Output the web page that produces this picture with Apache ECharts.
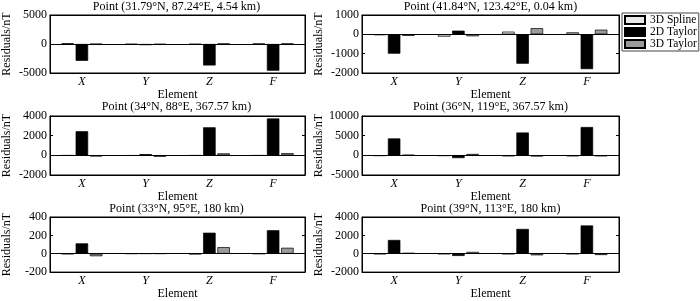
<!DOCTYPE html>
<html>
<head>
<meta charset="utf-8">
<title>Residuals</title>
<script src="https://cdn.jsdelivr.net/npm/echarts@6.0.0/dist/echarts.min.js"></script>
<style>
  html, body { margin: 0; padding: 0; background: #fff; }
  #main { width: 700px; height: 301px; }
</style>
</head>
<body>
<div id="main"></div>
<script>
// element categories and series names
const elements = ['X', 'Y', 'Z', 'F']
const seriesNames = ['3D Spline', '2D Taylor', '3D Taylor']

const titles = [
  'Point (31.79°N, 87.24°E, 4.54 km)',
  'Point (41.84°N, 123.42°E, 0.04 km)',
  'Point (34°N, 88°E, 367.57 km)',
  'Point (36°N, 119°E, 367.57 km)',
  'Point (33°N, 95°E, 180 km)',
  'Point (39°N, 113°E, 180 km)'
]

// residuals (nT) per panel, in order X, Y, Z, F
const spline3D = [
  [120, -60, -60, 40],
  [-40, -120, 140, 105],
  [-20, -30, -20, -20],
  [-150, -150, -250, -250],
  [-3, 2, -5, 0],
  [-30, -20, -30, -30]
]
const taylor2D = [
  [-2900, -200, -3700, -4600],
  [-1000, 190, -1520, -1800],
  [2450, 120, 2850, 3750],
  [4300, -700, 5800, 7200],
  [113, 3, 229, 256],
  [1500, -240, 2700, 3080]
]
const taylor3D = [
  [-30, -80, 50, 60],
  [-80, -100, 320, 240],
  [-120, -150, 200, 220],
  [100, 350, -300, -250],
  [-27, 3, 72, 65],
  [100, 200, -170, -140]
]

// y axis ranges per panel
const yMin = [-5000, -2000, -2000, -5000, -200, -2000]
const yMax = [5000, 1000, 4000, 10000, 400, 4000]
const yStep = [5000, 1000, 2000, 5000, 200, 2000]

const font = 'Liberation Serif'
const colors = ['#e8e8e8', '#000000', '#9a9a9a']
const colLeft = [48, 362]
const rowTop = [15, 116, 217]
const rowHeight = [58, 59, 59]
const titleTop = [1, 101, 203]
const panelWidth = 257

let chart = echarts.init(document.getElementById('main'))

let grids = []
let xAxes = []
let yAxes = []
let series = []
let titleList = []
const values = [spline3D, taylor2D, taylor3D]
const textStyle = { fontFamily: font, fontSize: 12, color: '#000' }
const black = { color: '#000', width: 1 }

for (let i = 0; i < titles.length; i++) {
  let row = Math.floor(i / 2)
  let col = i % 2
  grids.push({
    left: colLeft[col],
    top: rowTop[row],
    width: panelWidth,
    height: rowHeight[row],
    show: true,
    borderColor: '#000',
    borderWidth: 1
  })
  titleList.push({
    text: titles[i],
    left: colLeft[col] + panelWidth / 2,
    top: titleTop[row],
    textAlign: 'center',
    padding: 0,
    textStyle: { fontFamily: font, fontSize: 12, fontWeight: 'normal', color: '#000' }
  })
  for (let pos of ['bottom', 'top']) {
    xAxes.push({
      gridIndex: i,
      type: 'category',
      data: elements,
      position: pos,
      axisLine: { show: true, onZero: false, lineStyle: black },
      axisTick: { inside: true, alignWithLabel: true, length: 3, lineStyle: black },
      axisLabel: Object.assign({ show: pos === 'bottom', fontStyle: 'italic', margin: 3 }, textStyle),
      name: pos === 'bottom' ? 'Element' : '',
      nameLocation: 'middle',
      nameGap: 12,
      nameTextStyle: textStyle
    })
  }
  for (let pos of ['left', 'right']) {
    yAxes.push({
      gridIndex: i,
      type: 'value',
      min: yMin[i],
      max: yMax[i],
      interval: yStep[i],
      position: pos,
      axisLine: { show: true, lineStyle: black },
      axisTick: { show: true, inside: true, length: 3, lineStyle: black },
      axisLabel: Object.assign({
        show: pos === 'left',
        margin: 3,
        formatter: v => String(v)
      }, textStyle),
      splitLine: { show: false },
      name: pos === 'left' ? 'Residuals/nT' : '',
      nameLocation: 'middle',
      nameGap: 37,
      nameTextStyle: textStyle
    })
  }
  for (let s = 0; s < seriesNames.length; s++) {
    let item = {
      type: 'bar',
      name: seriesNames[s],
      xAxisIndex: 2 * i,
      yAxisIndex: 2 * i,
      data: values[s][i],
      barWidth: 12.5,
      barGap: '14%',
      itemStyle: { color: colors[s], borderColor: '#000', borderWidth: 0.7 }
    }
    if (s === 1) {
      // zero baseline
      item.markLine = {
        silent: true,
        symbol: ['none', 'none'],
        label: { show: false },
        lineStyle: { color: '#000', type: 'solid', width: 1 },
        data: [{ yAxis: 0 }]
      }
    }
    series.push(item)
  }
}

let option = {
  animation: false,
  backgroundColor: '#fff',
  title: titleList,
  legend: {
    data: seriesNames,
    orient: 'vertical',
    left: 622,
    top: 13,
    icon: 'rect',
    itemWidth: 20,
    itemHeight: 8,
    itemGap: 0,
    padding: [1, 2, 1, 2],
    borderColor: '#444',
    borderWidth: 1,
    textStyle: { fontFamily: font, fontSize: 11.5, color: '#000', lineHeight: 12 }
  },
  grid: grids,
  xAxis: xAxes,
  yAxis: yAxes,
  series: series
}

chart.setOption(option)
</script>
</body>
</html>
